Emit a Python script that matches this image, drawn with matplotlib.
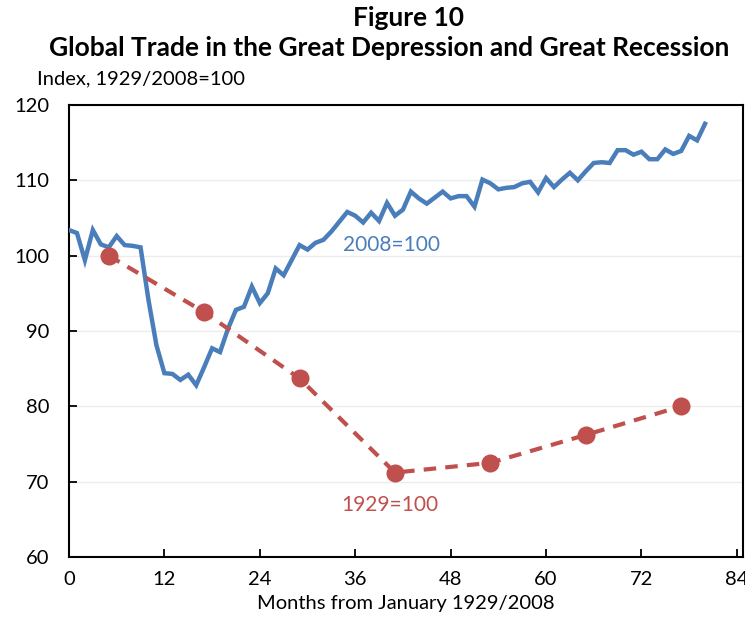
import matplotlib
matplotlib.use('Agg')
import matplotlib.pyplot as plt
import numpy as np

# Global trade, monthly index (2008=100)
months_2008 = list(range(0, 81))
trade_2008 = [103.4, 103.0, 99.4, 103.4, 101.5, 101.1, 102.6, 101.4, 101.3, 101.1,
              94.1, 88.1, 84.4, 84.3, 83.5, 84.2, 82.8, 85.2, 87.7, 87.2,
              90.3, 92.8, 93.2, 95.9, 93.7, 95.0, 98.3, 97.4, 99.4, 101.4,
              100.8, 101.7, 102.1, 103.2, 104.5, 105.8, 105.3, 104.4, 105.7, 104.6,
              107.0, 105.3, 106.1, 108.5, 107.6, 106.9, 107.7, 108.5, 107.6, 107.9,
              107.9, 106.5, 110.1, 109.6, 108.8, 109.0, 109.1, 109.6, 109.8, 108.4,
              110.3, 109.1, 110.1, 111.0, 110.0, 111.2, 112.3, 112.4, 112.3, 114.0,
              114.0, 113.4, 113.8, 112.8, 112.8, 114.1, 113.5, 113.9, 115.9, 115.3,
              117.5]

# Global trade, annual index (1929=100)
months_1929 = [5, 17, 29, 41, 53, 65, 77]
trade_1929 = [100.0, 92.5, 83.7, 71.2, 72.5, 76.2, 80.0]

xticks = [0, 12, 24, 36, 48, 60, 72, 84]
yticks = [60, 70, 80, 90, 100, 110, 120]

blue = '#4a7ebb'
red = '#c0504d'
font = 'Lato'

fig = plt.figure(figsize=(7.45, 6.23), dpi=100, facecolor='w')
ax = fig.add_axes([0.0926, 0.106, 0.905, 0.7255])

ax.plot(months_2008, trade_2008, color=blue, lw=3.2, solid_joinstyle='miter', zorder=3)
ax.plot(months_1929, trade_1929, color=red, lw=3, ls=(0, (3, 2.2)), marker='o',
        ms=13, markeredgewidth=0, zorder=4)

ax.text(40.6, 101.4, '2008=100', color=blue, fontsize=15, family=font, ha='center', va='center')
ax.text(40.4, 66.9, '1929=100', color=red, fontsize=15, family=font, ha='center', va='center')

ax.set_xlim(0, 84.8)
ax.set_ylim(60, 120)
ax.set_xticks(xticks)
ax.set_yticks(yticks)
ax.set_xticklabels([str(t) for t in xticks], family=font, fontsize=14.5)
ax.set_yticklabels([str(t) for t in yticks], family=font, fontsize=14.5)
ax.tick_params(direction='in', length=6, width=1.3)
ax.tick_params(axis='x', pad=10)
ax.tick_params(axis='y', pad=14)
ax.grid(axis='y', color='#ececec', lw=1)
ax.set_axisbelow(True)
for s in ax.spines.values():
    s.set_linewidth(1.5)
    s.set_color('black')

ax.set_xlabel('Months from January 1929/2008', family=font, fontsize=14.5, labelpad=5)

fig.text(0.548, 0.971, 'Figure 10', family=font, fontsize=19, fontweight='bold', ha='center', va='center')
fig.text(0.522, 0.923, 'Global Trade in the Great Depression and Great Recession', family=font,
         fontsize=19, fontweight='bold', ha='center', va='center')
fig.text(0.05, 0.874, 'Index, 1929/2008=100', family=font, fontsize=14.5, ha='left', va='center')

fig.savefig('out.png', dpi=100)
